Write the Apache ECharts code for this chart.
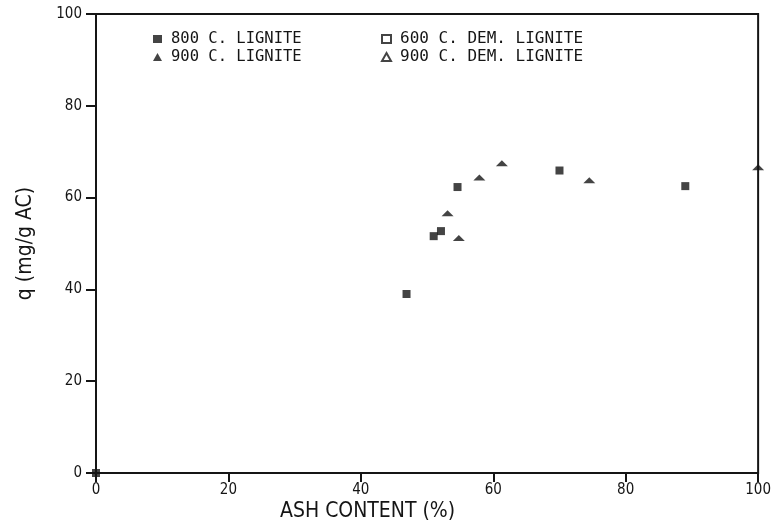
<!DOCTYPE html>
<html>
<head>
<meta charset="utf-8">
<script src="https://cdn.jsdelivr.net/npm/echarts@6/dist/echarts.min.js"></script>
<style>
html,body{margin:0;padding:0;background:#fff;}
#chart{width:774px;height:528px;}
</style>
</head>
<body>
<div id="chart"></div>
<script>
// Data
const seriesNames = ['800 C. LIGNITE', '900 C. LIGNITE', '600 C. DEM. LIGNITE', '900 C. DEM. LIGNITE'];
const lignite800 = [[0, 0], [46.9, 39.0], [51.0, 51.6], [52.1, 52.7], [54.6, 62.3], [70.0, 65.9], [89.0, 62.5]];
const lignite900 = [[53.1, 56.6], [54.8, 51.2], [57.9, 64.4], [61.3, 67.5], [74.5, 63.8], [100.0, 66.6]];
const demLignite600 = [];
const demLignite900 = [];
const xTicks = [0, 20, 40, 60, 80, 100];
const yTicks = [0, 20, 40, 60, 80, 100];
const xTitle = 'ASH CONTENT (%)';
const yTitle = 'q (mg/g AC)';

const FONT = "'DejaVu Sans Condensed', 'Liberation Sans Narrow', 'DejaVu Sans Mono', sans-serif";
const MONO = "'DejaVu Sans Mono', 'Liberation Mono', monospace";
const INK = '#151515';

const chart = echarts.init(document.getElementById('chart'), null, {renderer: 'canvas'});
const option = {
  backgroundColor: '#fff',
  animation: false,
  grid: {left: 96, right: 7, top: 14, bottom: 55, show: true, borderColor: INK, borderWidth: 2, backgroundColor: 'transparent'},
  legend: [
    {
      left: 148, top: 26, orient: 'vertical', itemGap: 2, itemWidth: 9, itemHeight: 8,
      data: [seriesNames[0], seriesNames[1]],
      textStyle: {fontFamily: MONO, fontSize: 15.5, color: INK, lineHeight: 15, padding: [0, 0, 0, 4]}
    },
    {
      left: 376, top: 26, orient: 'vertical', itemGap: 2, itemWidth: 9, itemHeight: 8,
      data: [seriesNames[2], seriesNames[3]],
      textStyle: {fontFamily: MONO, fontSize: 16, color: INK, lineHeight: 15, padding: [0, 0, 0, 4]}
    }
  ],
  xAxis: {
    type: 'value', min: 0, max: 100, interval: 20,
    axisLine: {show: true, onZero: false, lineStyle: {color: INK, width: 2}},
    axisTick: {show: true, inside: false, length: 9, lineStyle: {color: INK, width: 2}},
    axisLabel: {margin: 10, fontFamily: FONT, fontSize: 15, color: INK,
      formatter: v => xTicks.includes(v) ? String(v) : ''},
    splitLine: {show: false}
  },
  yAxis: {
    type: 'value', min: 0, max: 100, interval: 20,
    name: yTitle, nameLocation: 'middle', nameGap: 60, nameRotate: 90,
    nameTextStyle: {fontFamily: FONT, fontSize: 21, color: INK},
    axisLine: {show: true, onZero: false, lineStyle: {color: INK, width: 2}},
    axisTick: {show: true, inside: false, length: 10, lineStyle: {color: INK, width: 2}},
    axisLabel: {margin: 14, fontFamily: FONT, fontSize: 15, color: INK,
      formatter: v => yTicks.includes(v) ? String(v) : ''},
    splitLine: {show: false}
  },
  graphic: [
    {type: 'text', left: 280, top: 501,
      style: {text: xTitle, font: "21px " + FONT, fill: INK}}
  ],
  series: [
    {name: seriesNames[0], type: 'scatter', data: lignite800, symbol: 'rect', symbolSize: 8,
      itemStyle: {color: INK}, clip: false},
    {name: seriesNames[1], type: 'scatter', data: lignite900, symbol: 'triangle', symbolSize: [12, 6],
      itemStyle: {color: INK}, clip: false},
    {name: seriesNames[2], type: 'scatter', data: demLignite600, symbol: 'rect', symbolSize: 8,
      itemStyle: {color: '#fff', borderColor: INK, borderWidth: 1.5}},
    {name: seriesNames[3], type: 'scatter', data: demLignite900, symbol: 'triangle', symbolSize: [12, 6],
      itemStyle: {color: '#fff', borderColor: INK, borderWidth: 1.5}}
  ]
};
chart.setOption(option);
</script>
</body>
</html>
